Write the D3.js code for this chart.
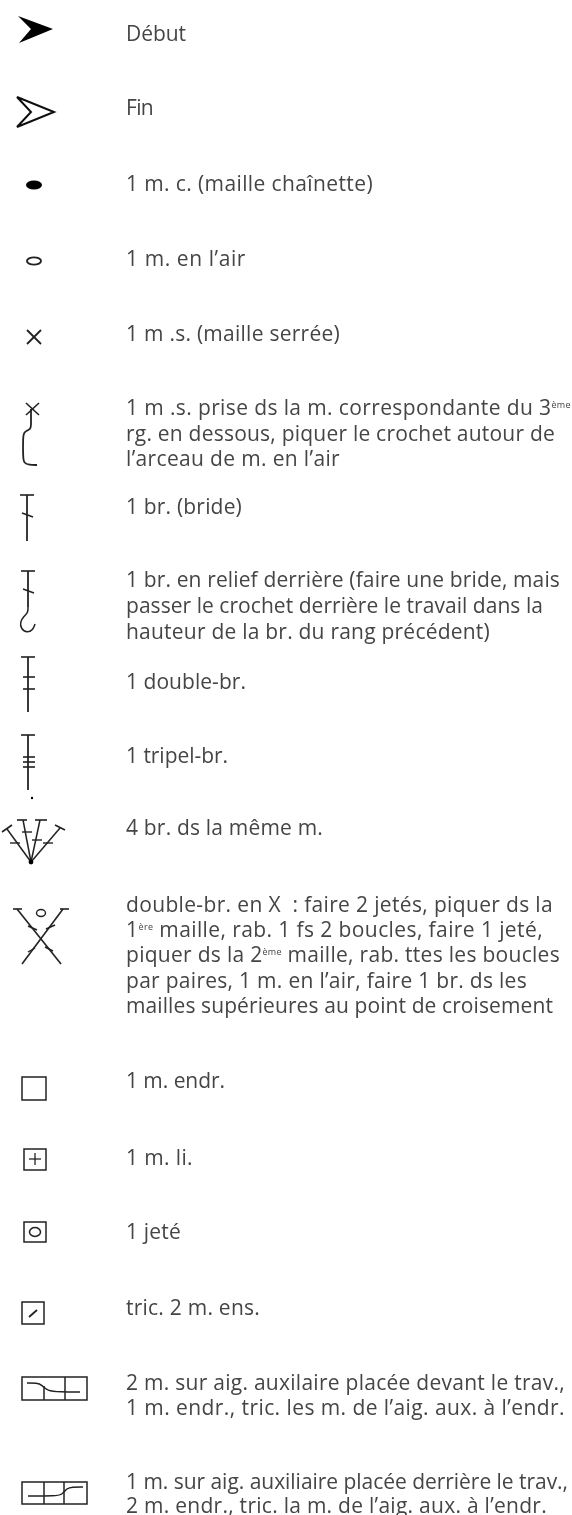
<!DOCTYPE html>
<html>
<head>
<meta charset="utf-8">
<script src="https://cdn.jsdelivr.net/npm/d3@7"></script>
<style>
html, body { margin: 0; padding: 0; background: #fff; }
svg { display: block; }
text { font-family: "Open Sans", sans-serif; font-size: 21px; fill: #454545; }
</style>
</head>
<body>
<div id="legend"></div>
<script>
// symbol names, one per row
var symbols = ["debut", "fin", "chainette", "air", "serree", "serreeBas", "bride", "relief",
    "doubleBr", "tripelBr", "eventail", "croisee", "endr", "li", "jete", "ens", "devant", "derriere"];

// text of each row, ^ marks a superscript
var labels = [
    ["Début"],
    ["Fin"],
    ["1 m. c. (maille chaînette)"],
    ["1 m. en l’air"],
    ["1 m .s. (maille serrée)"],
    ["1 m .s. prise ds la m. correspondante du 3^ème", "rg. en dessous, piquer le crochet autour de", "l’arceau de m. en l’air"],
    ["1 br. (bride)"],
    ["1 br. en relief derrière (faire une bride, mais", "passer le crochet derrière le travail dans la", "hauteur de la br. du rang précédent)"],
    ["1 double-br."],
    ["1 tripel-br."],
    ["4 br. ds la même m."],
    ["double-br. en X\u00a0\u00a0: faire 2 jetés, piquer ds la", "1^ère maille, rab. 1 fs 2 boucles, faire 1 jeté,", "piquer ds la 2^ème maille, rab. ttes les boucles", "par paires, 1 m. en l’air, faire 1 br. ds les", "mailles supérieures au point de croisement"],
    ["1 m. endr."],
    ["1 m. li."],
    ["1 jeté"],
    ["tric. 2 m. ens."],
    ["2 m. sur aig. auxilaire placée devant le trav.,", "1 m. endr., tric. les m. de l’aig. aux. à l’endr."],
    ["1 m. sur aig. auxiliaire placée derrière le trav.,", "2 m. endr., tric. la m. de l’aig. aux. à l’endr."]
];

// layout: baseline of the first text line of each row, line height, right end of each text line
var baselines = [41, 115, 191, 266, 341, 415, 514, 587, 689, 763, 835, 912, 1088, 1165, 1239, 1315, 1390, 1489];
var lineHeights = [25, 25, 25, 25, 25, 25.5, 25, 26, 25, 25, 25, 25.2, 25, 25, 25, 25, 25, 24];
var lineEnds = [[186], [153], [373], [246], [340], [571, 555, 340], [242], [560, 543, 490], [246], [228], [323],
    [553, 543, 560, 527, 553], [225], [193], [181], [260], [565, 565], [568, 547]];
var textX = 126;
var ink = "#222";

var y = d3.scaleOrdinal().domain(symbols).range(baselines);
var leading = d3.scaleOrdinal().domain(symbols).range(lineHeights);
var ends = d3.scaleOrdinal().domain(symbols).range(lineEnds);

var svg = d3.select("#legend").append("svg").attr("width", 572).attr("height", 1515);

var defs = svg.append("defs");
defs.append("filter").attr("id", "soft")
    .attr("x", "-5%").attr("y", "-5%").attr("width", "110%").attr("height", "110%")
    .append("feGaussianBlur").attr("stdDeviation", 0.5);

var line = d3.line();
var smooth = d3.line().curve(d3.curveBasis);

function stroke(g, pts, w, gen) {
    return g.append("path").attr("d", (gen || line)(pts)).attr("fill", "none")
        .attr("stroke", ink).attr("stroke-width", w || 1.5);
}

function ellipse(g, cx, cy, rx, ry, filled, w) {
    return g.append("ellipse").attr("cx", cx).attr("cy", cy).attr("rx", rx).attr("ry", ry)
        .attr("fill", filled ? "#000" : "none")
        .attr("stroke", filled ? "none" : ink).attr("stroke-width", w || 1.5);
}

function box(g, x0, y0, x1, y1) {
    g.append("rect").attr("x", x0).attr("y", y0).attr("width", x1 - x0).attr("height", y1 - y0)
        .attr("fill", "none").attr("stroke", ink).attr("stroke-width", 1.5);
}

// stem with a bar on top and small cross ticks, used by the bride family
function stem(g, x, top, bottom, ticks, flat) {
    stroke(g, [[x - 7, top], [x + 7, top]], 1.6);
    stroke(g, [[x, top], [x, bottom]], 1.8);
    ticks.forEach(function (t) {
        stroke(g, flat ? [[x - 5, t], [x + 7, t]] : [[x - 5, t - 2], [x + 6, t + 2]], 1.6);
    });
}

// each glyph is drawn around the first baseline of its row
var glyphs = {
    debut: function (g) {
        g.append("path").attr("d", line([[18, -25], [53, -12], [19, 2], [31, -12]]) + "Z").attr("fill", "#000");
    },
    fin: function (g) {
        g.append("path").attr("d", line([[17, -18], [54, -3], [17, 12], [31, -3]]) + "Z")
            .attr("fill", "none").attr("stroke", "#111").attr("stroke-width", 2);
    },
    chainette: function (g) { ellipse(g, 34, -6, 8, 4.5, true); },
    air: function (g) { ellipse(g, 34, -5, 7, 3.6, false, 1.9); },
    serree: function (g) {
        stroke(g, [[27, -11], [41, 3]], 1.8);
        stroke(g, [[41, -11], [27, 3]], 1.8);
    },
    serreeBas: function (g) {
        stroke(g, [[26, -12], [39, 0]], 1.6);
        stroke(g, [[39, -12], [26, 0]], 1.6);
        stroke(g, [[31, -6], [31, 10], [31, 14], [24, 17], [23, 21], [23, 43], [24, 48], [29, 50], [37, 50]], 1.8, smooth);
    },
    bride: function (g) { stem(g, 27, -19, 27, [1]); },
    relief: function (g) {
        stem(g, 28, -16, 20, [4]);
        stroke(g, [[28, 20], [28, 26], [24, 29], [20, 35], [21, 42], [27, 46], [33, 43], [35, 37]], 1.5, smooth);
    },
    doubleBr: function (g) { stem(g, 28, -32, 23, [-12, 0], true); },
    tripelBr: function (g) {
        stem(g, 28, -28, 27, [-6, -1, 4], true);
        ellipse(g, 32, 35, 1.2, 1.2, true);
    },
    eventail: function (g) {
        var o = [31, 27];
        [[[7, -6], [2, -3], [12, -10], [15, 8]],
         [[23, -15], [17, -15], [27, -15], [27, -3]],
         [[40, -15], [35, -15], [47, -15], [37, 5]],
         [[60, -7], [55, -10], [65, -5], [48, 8]]].forEach(function (s) {
            stroke(g, [o, s[0]], 1.5);
            stroke(g, [s[1], s[2]], 1.6);
            stroke(g, [[s[3][0] - 5, s[3][1]], [s[3][0] + 5, s[3][1]]], 1.4);
        });
        ellipse(g, 31, 27, 2.4, 2.4, true);
    },
    croisee: function (g) {
        stroke(g, [[17, -3], [61, 52]], 1.6);
        stroke(g, [[63, -3], [22, 52]], 1.6);
        stroke(g, [[13, -3], [22, -3]], 1.6);
        stroke(g, [[60, -3], [69, -3]], 1.6);
        ellipse(g, 41, 1, 4.5, 3.5, false, 1.4);
        stroke(g, [[28, 14], [37, 18]], 1.4);
        stroke(g, [[46, 17], [55, 13]], 1.4);
        stroke(g, [[28, 40], [35, 36]], 1.4);
        stroke(g, [[45, 35], [53, 39]], 1.4);
    },
    endr: function (g) { box(g, 22, -11, 46, 12); },
    li: function (g) {
        box(g, 24, -16, 46, 5);
        stroke(g, [[29, -6], [41, -6]], 1.3);
        stroke(g, [[35, -12], [35, 0]], 1.3);
    },
    jete: function (g) {
        box(g, 24, -17, 46, 3);
        ellipse(g, 35, -7, 5.5, 4.5, false, 1.5);
    },
    ens: function (g) {
        box(g, 22, -13, 44, 9);
        stroke(g, [[29, 2], [37, -5]], 1.8);
    },
    devant: function (g) {
        box(g, 22, -13, 87, 10);
        stroke(g, [[44, -4], [44, 10]], 1.5);
        stroke(g, [[65, -13], [65, 10]], 1.5);
        stroke(g, [[27, -7], [37, -7], [42, -5], [47, 1], [60, 2], [80, 2]], 1.5, smooth);
    },
    derriere: function (g) {
        box(g, 22, -7, 87, 15);
        stroke(g, [[44, -7], [44, 15]], 1.5);
        stroke(g, [[64, -7], [64, 15]], 1.5);
        stroke(g, [[28, 7], [55, 7], [62, 6], [67, -1], [72, -2], [83, -2]], 1.5, smooth);
    }
};

var rows = svg.append("g").attr("filter", "url(#soft)").selectAll("g.row")
    .data(d3.zip(symbols, labels))
    .enter().append("g")
    .attr("class", "row")
    .attr("transform", function (d) { return "translate(0," + y(d[0]) + ")"; });

rows.each(function (d) {
    var key = d[0];
    var g = d3.select(this);
    glyphs[key](g);

    g.selectAll("text.lbl")
        .data(d[1])
        .enter().append("text")
        .attr("class", "lbl")
        .attr("x", textX)
        .attr("y", function (s, i) { return i * leading(key); })
        .each(function (s, i) {
            var t = d3.select(this);
            var raised = false;
            var chars = 0;
            s.split(/(\^\S+)/).forEach(function (part) {
                if (!part) return;
                if (part.charAt(0) == "^") {
                    t.append("tspan").attr("dy", -7).style("font-size", "9px").text(part.slice(1));
                    chars += part.length - 1;
                    raised = true;
                } else {
                    t.append("tspan").attr("dy", raised ? 7 : null).text(part);
                    chars += part.length;
                    raised = false;
                }
            });
            // the original type runs a little wider or narrower line by line
            var gap = ends(key)[i] - textX - this.getComputedTextLength();
            t.style("letter-spacing", (gap / chars) + "px");
        });
});
</script>
</body>
</html>
